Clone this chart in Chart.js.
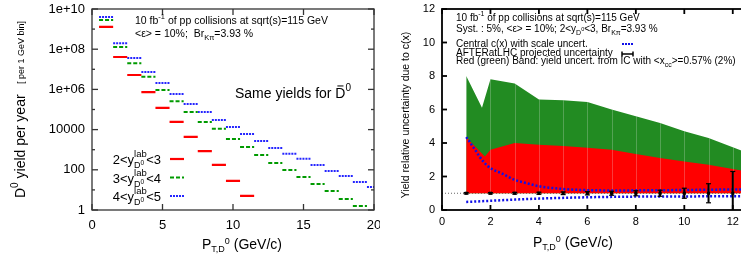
<!DOCTYPE html>
<html>
<head>
<meta charset="utf-8">
<script src="https://cdn.jsdelivr.net/npm/chart.js@4.4.0/dist/chart.umd.min.js"></script>
<style>
html, body { margin: 0; padding: 0; background: #fff; overflow: hidden; width: 741px; height: 257px; }
#left { position: absolute; left: 0; top: 0; }
#right { position: absolute; left: 380px; top: 0; }
</style>
</head>
<body>
<canvas id="left" width="380" height="257"></canvas>
<canvas id="right" width="400" height="257"></canvas>
<script>
// ---- left panel: D0 yields per 1 GeV bin ----
const ptBins = [1, 2, 3, 4, 5, 6, 7, 8, 9, 10, 11, 12, 13, 14, 15, 16, 17, 18, 19, 20];
const binHalf = 0.5;
const yield23 = [1.3e9, 4.1e7, 5.2e6, 7.4e5, 1.2e5, 2.4e4, 4.3e3, 850, 175, 28, 5];
const yield34 = [2.8e9, 1.3e8, 2.0e7, 4.2e6, 9.3e5, 2.6e5, 7.6e4, 2.4e4, 1.1e4, 3.4e3, 1.35e3, 550, 220, 98, 44, 19.5, 8.9, 3.5, 1.6];
const yield45 = [4.0e9, 2.0e8, 3.6e7, 7.4e6, 2.1e6, 5.9e5, 1.9e5, 7.6e4, 3.0e4, 1.35e4, 6.0e3, 2.7e3, 1.2e3, 620, 350, 175, 87, 49, 25, 14];
const yRanges = [["2", "3"], ["3", "4"], ["4", "5"]];
const leftXTicks = [0, 5, 10, 15, 20];
const leftYTicks = [1, 10, 100, 1e3, 1e4, 1e5, 1e6, 1e7, 1e8, 1e9, 1e10];
const leftYLabels = {1: "1", 100: "100", 10000: "10000", 1000000: "1e+06", 100000000: "1e+08", 10000000000: "1e+10"};

// ---- right panel: relative uncertainty ----
const cxPt = [1, 1.15, 1.36, 1.7, 2, 2.45, 3, 3.5, 4, 4.65, 5.5, 7, 9, 11, 13];
const cxUp = [4.35, 4.05, 3.6, 2.9, 2.5, 2.2, 1.8, 1.6, 1.42, 1.3, 1.21, 1.17, 1.18, 1.21, 1.24];
const cxLowPt = [1, 2, 3, 4, 6, 8, 10, 13];
const cxLow = [0.48, 0.55, 0.62, 0.68, 0.76, 0.8, 0.81, 0.83];
const redPt = [1, 1.77, 2, 3, 4, 5, 6, 7, 8, 9, 10, 11, 12, 13];
const redTop = [4.35, 3.2, 3.6, 4.0, 3.9, 3.82, 3.72, 3.6, 3.35, 3.1, 2.9, 2.7, 2.45, 2.2];
const greenPt = [1, 1.65, 2, 3, 4, 5, 6, 7, 8, 9, 10, 11, 12, 13];
const greenTop = [8.0, 6.1, 7.8, 7.55, 6.6, 6.55, 6.45, 6.0, 5.6, 5.2, 4.7, 4.3, 3.75, 3.2];
const aftPt = [1, 2, 3, 4, 5, 6, 7, 8, 9, 10, 11, 12];
const aftErr = [0.04, 0.04, 0.05, 0.06, 0.08, 0.1, 0.12, 0.15, 0.18, 0.3, 0.57, 1.3];
const rightXTicks = [0, 2, 4, 6, 8, 10, 12];
const rightYTicks = [0, 2, 4, 6, 8, 10, 12];

const FONT = "'Liberation Sans', Arial, Helvetica, sans-serif";

function stepData(centers, vals) {
  const out = [];
  vals.forEach((v, i) => {
    out.push({x: centers[i] - binHalf, y: v}, {x: centers[i] + binHalf, y: v}, {x: centers[i] + binHalf, y: null});
  });
  return out;
}
function xy(xs, ys) {
  return ys.map((v, i) => ({x: xs[i], y: v}));
}
// keep the plot frame where it is, whatever the tick labels need
function noPadX(s, h) { s.height = h; s.paddingLeft = 0; s.paddingRight = 0; }
function noPadY(s, w) { s.width = w; s.paddingTop = 0; s.paddingBottom = 0; }

// draws text made of pieces (sub/superscripts)
function rich(ctx, x, y, parts, align) {
  let w = 0;
  parts.forEach(p => {
    ctx.font = p.s + "px " + FONT;
    p._w = p.t ? ctx.measureText(p.t).width : 0;
    if (p.adv !== false) w += p._w + (p.gap || 0);
  });
  let cx = align === "right" ? x - w : align === "center" ? x - w / 2 : x;
  ctx.textAlign = "left";
  ctx.textBaseline = "alphabetic";
  parts.forEach(p => {
    ctx.font = p.s + "px " + FONT;
    if (p.t) ctx.fillText(p.t, cx, y + (p.dy || 0));
    if (p.bar) {
      ctx.beginPath();
      ctx.lineWidth = 1;
      ctx.moveTo(cx + 2, y - p.s * 0.86);
      ctx.lineTo(cx + p._w - 2, y - p.s * 0.86);
      ctx.stroke();
    }
    if (p.adv !== false) cx += p._w + (p.gap || 0);
  });
}

function line(ctx, x1, y1, x2, y2) {
  ctx.beginPath();
  ctx.moveTo(x1, y1);
  ctx.lineTo(x2, y2);
  ctx.stroke();
}

function frame(opts) {
  return {
    id: "frame",
    afterDatasetsDraw(chart) {
      const {ctx, chartArea: a, scales} = chart;
      ctx.save();
      ctx.strokeStyle = opts.color;
      ctx.lineWidth = opts.width;
      ctx.strokeRect(a.left, a.top, a.right - a.left, a.bottom - a.top);
      opts.xTicks.forEach(v => {
        const px = scales.x.getPixelForValue(v);
        line(ctx, px, a.bottom, px, a.bottom - opts.len);
        line(ctx, px, a.top, px, a.top + opts.len);
      });
      opts.yTicks.forEach(v => {
        const py = scales.y.getPixelForValue(v);
        const len = opts.yLen(v);
        line(ctx, a.left, py, a.left + len, py);
        line(ctx, a.right, py, a.right - len, py);
      });
      ctx.restore();
    }
  };
}

// ---------------- left chart ----------------
const leftText = {
  id: "leftText",
  afterDraw(chart) {
    const ctx = chart.ctx;
    ctx.save();
    ctx.fillStyle = "#000";
    ctx.strokeStyle = "#000";
    rich(ctx, 135, 24, [
      {t: "10 fb", s: 10.5}, {t: "-1", s: 7.5, dy: -5}, {t: " of pp collisions at sqrt(s)=115 GeV", s: 10.5}
    ]);
    rich(ctx, 135, 37, [
      {t: "<\u03b5> = 10%;  Br", s: 10.5}, {t: "K\u03c0", s: 7.5, dy: 3}, {t: "=3.93 %", s: 10.5}
    ]);
    rich(ctx, 235, 98, [
      {t: "Same yields for ", s: 14}, {t: "D", s: 14, bar: true}, {t: "0", s: 10, dy: -7}
    ]);
    // legend
    const styles = [
      {c: "#ff0000", d: [], w: 2.2},
      {c: "#009a00", d: [4, 2], w: 2},
      {c: "#2424ff", d: [2, 1], w: 2}
    ];
    yRanges.forEach((r, i) => {
      const ly = 159 + i * 18.5;
      rich(ctx, 161, ly + 5, [
        {t: r[0] + "<y", s: 13},
        {t: "lab", s: 9.5, dy: -7, adv: false},
        {t: "D", s: 9, dy: 4},
        {t: "0", s: 6.5, dy: 1},
        {t: "", s: 9, gap: 2},
        {t: "<" + r[1], s: 13}
      ], "right");
      ctx.save();
      ctx.strokeStyle = styles[i].c;
      ctx.lineWidth = styles[i].w;
      ctx.setLineDash(styles[i].d);
      line(ctx, 170, ly, 184, ly);
      ctx.restore();
    });
    // x title
    rich(ctx, 202, 249, [
      {t: "P", s: 14}, {t: "T,D", s: 9, dy: 3}, {t: "0", s: 9, dy: -5}, {t: " (GeV/c)", s: 14}
    ]);
    // y title
    ctx.translate(25, 198);
    ctx.rotate(-Math.PI / 2);
    rich(ctx, 0, 0, [
      {t: "D", s: 14}, {t: "0", s: 10, dy: -7}, {t: " yield per year", s: 14}
    ]);
    rich(ctx, 114, -1, [{t: "[ per 1 GeV bin]", s: 9}]);
    ctx.restore();
  }
};

new Chart(document.getElementById("left"), {
  type: "line",
  data: {
    datasets: [
      {data: stepData(ptBins, yield23), borderColor: "#ff0000", borderWidth: 2.2, pointRadius: 0, spanGaps: false, clip: 0},
      {data: stepData(ptBins, yield34), borderColor: "#009a00", borderWidth: 2, borderDash: [4, 2], pointRadius: 0, spanGaps: false, clip: 0},
      {data: stepData(ptBins, yield45), borderColor: "#2424ff", borderWidth: 2, borderDash: [2, 1], pointRadius: 0, spanGaps: false, clip: 0}
    ]
  },
  options: {
    responsive: false,
    animation: false,
    layout: {padding: {top: 9, right: 6, left: 0, bottom: 0}},
    plugins: {legend: {display: false}, tooltip: {enabled: false}},
    scales: {
      x: {
        type: "linear", min: 0, max: 20,
        grid: {display: false, drawTicks: false}, border: {display: false},
        afterBuildTicks: s => { s.ticks = leftXTicks.map(v => ({value: v})); },
        afterFit: s => noPadX(s, 47),
        ticks: {color: "#000", font: {family: FONT, size: 13}, padding: 8, maxRotation: 0, autoSkip: false}
      },
      y: {
        type: "logarithmic", min: 1, max: 1e10,
        grid: {display: false, drawTicks: false}, border: {display: false},
        afterBuildTicks: s => { s.ticks = leftYTicks.map(v => ({value: v})); },
        afterFit: s => noPadY(s, 92),
        ticks: {color: "#000", font: {family: FONT, size: 13}, padding: 7, autoSkip: false,
          callback: v => leftYLabels[v] || ""}
      }
    }
  },
  plugins: [frame({color: "#333", width: 1.3, len: 6, xTicks: leftXTicks, yTicks: leftYTicks,
    yLen: v => (leftYLabels[v] ? 6 : 3)}), leftText]
});

// ---------------- right chart ----------------
const rightDeco = {
  id: "rightDeco",
  beforeDatasetsDraw(chart) {
    const {ctx, chartArea: a, scales} = chart;
    const py = scales.y.getPixelForValue(1);
    ctx.save();
    ctx.strokeStyle = "#666";
    ctx.lineWidth = 1;
    ctx.setLineDash([1, 2]);
    line(ctx, a.left, py, a.right, py);
    ctx.restore();
  },
  afterDatasetDraw(chart, args) {
    if (args.index !== 3) return;
    // faint seams inside the bands
    const {ctx, scales} = chart;
    const pts = chart.getDatasetMeta(4).data;
    const y1 = scales.y.getPixelForValue(1);
    ctx.save();
    ctx.beginPath();
    ctx.moveTo(pts[0].x, y1);
    pts.forEach(p => ctx.lineTo(p.x, p.y));
    ctx.lineTo(pts[pts.length - 1].x, y1);
    ctx.closePath();
    ctx.clip();
    ctx.strokeStyle = "rgba(235,235,235,0.25)";
    ctx.lineWidth = 1;
    aftPt.slice(1).forEach(v => {
      const px = Math.round(scales.x.getPixelForValue(v)) + 0.5;
      line(ctx, px, chart.chartArea.top, px, y1);
    });
    ctx.restore();
  },
  afterDatasetsDraw(chart) {
    const {ctx, chartArea: a, scales} = chart;
    ctx.save();
    ctx.beginPath();
    ctx.rect(a.left, a.top, a.right - a.left, a.bottom - a.top);
    ctx.clip();
    ctx.strokeStyle = "#000";
    aftPt.forEach((v, i) => {
      const px = scales.x.getPixelForValue(v);
      const top = scales.y.getPixelForValue(1 + aftErr[i]);
      const bot = scales.y.getPixelForValue(1 - aftErr[i]);
      ctx.lineWidth = 2;
      line(ctx, px, top, px, bot);
      ctx.lineWidth = 1.2;
      line(ctx, px - 2.5, top, px + 2.5, top);
      line(ctx, px - 2.5, bot, px + 2.5, bot);
    });
    ctx.restore();
  },
  afterDraw(chart) {
    const ctx = chart.ctx;
    ctx.save();
    ctx.fillStyle = "#000";
    ctx.strokeStyle = "#000";
    rich(ctx, 76, 21, [
      {t: "10 fb", s: 10}, {t: "-1", s: 7, dy: -5}, {t: " of pp collisions at sqrt(s)=115 GeV", s: 10}
    ]);
    rich(ctx, 76, 32, [
      {t: "Syst. : 5%, <\u03b5> = 10%; 2<y", s: 10}, {t: "D", s: 7, dy: 3}, {t: "0", s: 5.5, dy: -1},
      {t: "<3, Br", s: 10}, {t: "K\u03c0", s: 7, dy: 3}, {t: "=3.93 %", s: 10}
    ]);
    rich(ctx, 76, 47, [{t: "Central c(x) with scale uncert.", s: 10}]);
    rich(ctx, 76, 56, [{t: "AFTERatLHC projected uncertainty", s: 10}]);
    rich(ctx, 76, 64, [
      {t: "Red (green) Band: yield uncert. from IC with <x", s: 10}, {t: "cc", s: 7, dy: 3}, {t: ">=0.57% (2%)", s: 10}
    ]);
    // key samples
    ctx.save();
    ctx.strokeStyle = "#1010e8";
    ctx.lineWidth = 2;
    ctx.setLineDash([2, 1]);
    line(ctx, 242, 44, 253, 44);
    ctx.restore();
    ctx.lineWidth = 1.5;
    line(ctx, 242, 54, 253, 54);
    line(ctx, 242, 51.5, 242, 56.5);
    line(ctx, 253, 51.5, 253, 56.5);
    // x title
    rich(ctx, 153, 247, [
      {t: "P", s: 14}, {t: "T,D", s: 9, dy: 3}, {t: "0", s: 9, dy: -5}, {t: " (GeV/c)", s: 14}
    ]);
    // y title
    ctx.translate(29, 115);
    ctx.rotate(-Math.PI / 2);
    rich(ctx, 0, 0, [{t: "Yield relative uncertainty due to c(x)", s: 10.5}], "center");
    ctx.restore();
  }
};

new Chart(document.getElementById("right"), {
  type: "line",
  data: {
    datasets: [
      {data: xy(cxPt, cxUp), borderColor: "#1010e8", borderWidth: 2.5, borderDash: [2, 2], pointRadius: 0,
        cubicInterpolationMode: "monotone", order: 0},
      {data: xy(cxLowPt, cxLow), borderColor: "#1010e8", borderWidth: 2.5, borderDash: [2, 2], pointRadius: 0,
        cubicInterpolationMode: "monotone", order: 0},
      {data: aftPt.map(v => ({x: v, y: 1})), showLine: false, pointStyle: "rect", pointRadius: 2.2,
        pointBackgroundColor: "#000", pointBorderColor: "#000", pointBorderWidth: 0, order: 1},
      {data: xy(redPt, redTop), borderWidth: 0, borderColor: "rgba(0,0,0,0)", backgroundColor: "#ff0000",
        fill: {value: 1}, pointRadius: 0, tension: 0, order: 2},
      {data: xy(greenPt, greenTop), borderWidth: 0, borderColor: "rgba(0,0,0,0)", backgroundColor: "#228b22",
        fill: {value: 1}, pointRadius: 0, tension: 0, order: 3}
    ]
  },
  options: {
    responsive: false,
    animation: false,
    layout: {padding: {top: 9, right: 23, left: 0, bottom: 0}},
    plugins: {legend: {display: false}, tooltip: {enabled: false}},
    scales: {
      x: {
        type: "linear", min: 0, max: 13,
        grid: {display: false, drawTicks: false}, border: {display: false},
        afterBuildTicks: s => { s.ticks = rightXTicks.map(v => ({value: v})); },
        afterFit: s => noPadX(s, 47),
        ticks: {color: "#000", font: {family: FONT, size: 11}, padding: 5, maxRotation: 0, autoSkip: false}
      },
      y: {
        type: "linear", min: 0, max: 12,
        grid: {display: false, drawTicks: false}, border: {display: false},
        afterBuildTicks: s => { s.ticks = rightYTicks.map(v => ({value: v})); },
        afterFit: s => noPadY(s, 62),
        ticks: {color: "#000", font: {family: FONT, size: 11}, padding: 7, autoSkip: false}
      }
    }
  },
  plugins: [rightDeco, frame({color: "#000", width: 1.8, len: 5, xTicks: rightXTicks, yTicks: rightYTicks, yLen: () => 5})]
});
</script>
</body>
</html>
